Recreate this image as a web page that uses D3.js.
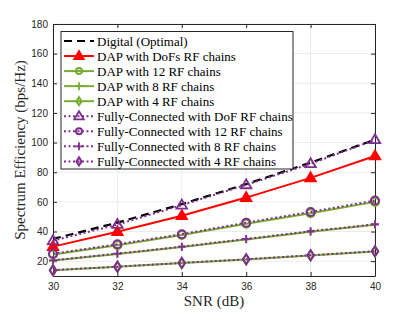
<!DOCTYPE html>
<html><head><meta charset="utf-8">
<script src="https://cdn.jsdelivr.net/npm/d3@7"></script>
<style>body{margin:0;background:#fff}svg{display:block}</style>
</head><body>
<svg id="c" width="415" height="312"></svg>
<script>
const snr = [30, 32, 34, 36, 38, 40];
const digital = [35, 46, 58.5, 72, 86.5, 102];
const dapDoF = [29.8, 39.9, 50.7, 62.9, 76.2, 91];
const dap12 = [24.5, 30.8, 37.6, 45.2, 52.4, 60.0];
const dap8 = [20.4, 24.8, 29.6, 34.7, 39.9, 44.6];
const dap4 = [13.8, 16.2, 18.7, 21.2, 23.9, 26.5];
const fcDoF = [33.8, 44.7, 57.8, 71.5, 85.7, 101.9];
const fc12 = [25.0, 31.4, 38.2, 46.0, 53.2, 60.9];
const fc8 = [20.6, 25.1, 29.8, 35.0, 40.2, 44.9];
const fc4 = [13.9, 16.3, 18.8, 21.3, 24.0, 26.7];
const xTicks = [30, 32, 34, 36, 38, 40];
const yTicks = [20, 40, 60, 80, 100, 120, 140, 160, 180];
const legendLabels = ["Digital (Optimal)", "DAP with DoFs RF chains", "DAP with 12 RF chains",
  "DAP with 8 RF chains", "DAP with 4 RF chains", "Fully-Connected with DoF RF chains",
  "Fully-Connected with 12 RF chains", "Fully-Connected with 8 RF chains", "Fully-Connected with 4 RF chains"];

const RED = "#ff0000", GREEN = "#77ac30", PURPLE = "#7e2f8e";
const series = [
  {v: digital, color: "#000", dash: "8,5", marker: null, w: 2.2},
  {v: dapDoF, color: RED, dash: null, marker: "tri", filled: true, w: 2},
  {v: dap12, color: GREEN, dash: null, marker: "circle", filled: false, w: 2},
  {v: dap8, color: GREEN, dash: null, marker: "plus", w: 2},
  {v: dap4, color: GREEN, dash: null, marker: "diamond", filled: false, w: 2},
  {v: fcDoF, color: PURPLE, dash: "2,2.5", marker: "tri", filled: false, w: 2},
  {v: fc12, color: PURPLE, dash: "2,2.5", marker: "circle", filled: false, w: 2},
  {v: fc8, color: PURPLE, dash: "2,2.5", marker: "plus", w: 2},
  {v: fc4, color: PURPLE, dash: "2,2.5", marker: "diamond", filled: false, w: 2}
];

const svg = d3.select("#c");
const L = 53, R = 375, T = 24, B = 276;
const x = d3.scaleLinear().domain([30, 40]).range([L, R]);
const y = d3.scaleLinear().domain([10, 180]).range([B, T]);
const axisColor = "#262626";

// grid
const g = svg.append("g");
g.selectAll(".gx").data(xTicks).enter().append("line")
  .attr("x1", d => x(d)).attr("x2", d => x(d)).attr("y1", T).attr("y2", B)
  .attr("stroke", "#ebebeb").attr("stroke-width", 1);
g.selectAll(".gy").data(yTicks).enter().append("line")
  .attr("x1", L).attr("x2", R).attr("y1", d => y(d)).attr("y2", d => y(d))
  .attr("stroke", "#ebebeb").attr("stroke-width", 1);

// axes
const ax = svg.append("g").attr("transform", `translate(0,${B})`)
  .call(d3.axisBottom(x).tickValues(xTicks).tickSizeInner(-4).tickSizeOuter(0).tickPadding(7));
const ay = svg.append("g").attr("transform", `translate(${L},0)`)
  .call(d3.axisLeft(y).tickValues(yTicks).tickSizeInner(-4).tickSizeOuter(0).tickPadding(5));
const axTop = svg.append("g").attr("transform", `translate(0,${T})`)
  .call(d3.axisTop(x).tickValues(xTicks).tickSizeInner(-4).tickSizeOuter(0).tickFormat(""));
const ayR = svg.append("g").attr("transform", `translate(${R},0)`)
  .call(d3.axisRight(y).tickValues(yTicks).tickSizeInner(-4).tickSizeOuter(0).tickFormat(""));
[ax, ay, axTop, ayR].forEach(a => {
  a.select(".domain").attr("stroke", axisColor).attr("stroke-width", 1);
  a.selectAll(".tick line").attr("stroke", axisColor);
  a.selectAll("text").attr("fill", axisColor).style("font-family", "Liberation Sans, Arial, sans-serif").style("font-size", "10px");
});

function drawMarker(sel, m, color, filled, size) {
  if (m === "tri") {
    const s = size || 5.5;
    sel.append("path").attr("d", `M0,${-s}L${s*0.95},${s*0.62}L${-s*0.95},${s*0.62}Z`)
      .attr("fill", filled ? color : "none").attr("stroke", color).attr("stroke-width", 1.8);
  } else if (m === "circle") {
    sel.append("circle").attr("r", size || 4).attr("fill", "none").attr("stroke", color).attr("stroke-width", 2);
  } else if (m === "plus") {
    const s = size || 4;
    sel.append("path").attr("d", `M${-s},0H${s}M0,${-s}V${s}`).attr("stroke", color).attr("stroke-width", 1.8).attr("fill", "none");
  } else if (m === "diamond") {
    const s = size || 5;
    sel.append("path").attr("d", `M0,${-s}L${s*0.65},0L0,${s}L${-s*0.65},0Z`)
      .attr("fill", "none").attr("stroke", color).attr("stroke-width", 2);
  }
}

const line = d3.line().x((d, i) => x(snr[i])).y(d => y(d));
const plot = svg.append("g");
series.forEach(s => {
  plot.append("path").datum(s.v).attr("d", line).attr("fill", "none")
    .attr("stroke", s.color).attr("stroke-width", s.w)
    .attr("stroke-dasharray", s.dash);
  if (s.marker) {
    s.v.forEach((v, i) => {
      const mg = plot.append("g").attr("transform", `translate(${x(snr[i])},${y(v)})`);
      drawMarker(mg, s.marker, s.color, s.filled);
    });
  }
});

// legend
const lg = svg.append("g");
const lx0 = 61, ly0 = 31.5, lw = 232, lh = 137.5;
lg.append("rect").attr("x", lx0).attr("y", ly0).attr("width", lw).attr("height", lh)
  .attr("fill", "#fff").attr("stroke", axisColor).attr("stroke-width", 1);
series.forEach((s, i) => {
  const yy = ly0 + 9.5 + i * 15.05;
  lg.append("line").attr("x1", lx0 + 3).attr("x2", lx0 + 33).attr("y1", yy).attr("y2", yy)
    .attr("stroke", s.color).attr("stroke-width", s.w).attr("stroke-dasharray", s.dash);
  if (s.marker) {
    const mg = lg.append("g").attr("transform", `translate(${lx0 + 18},${yy})`);
    drawMarker(mg, s.marker, s.color, s.filled, s.marker === "tri" ? 5 : (s.marker === "circle" ? 3 : 4));
  }
  lg.append("text").attr("x", lx0 + 36).attr("y", yy).attr("dy", "0.35em")
    .style("font-family", "Liberation Serif, Times New Roman, serif").style("font-size", "13px")
    .attr("fill", "#000").text(legendLabels[i]);
});

// axis labels
svg.append("text").attr("x", (L + R) / 2).attr("y", 306).attr("text-anchor", "middle")
  .style("font-family", "Liberation Serif, Times New Roman, serif").style("font-size", "15px")
  .attr("fill", axisColor).text("SNR (dB)");
svg.append("text").attr("transform", `translate(25,${(T + B) / 2}) rotate(-90)`).attr("text-anchor", "middle")
  .style("font-family", "Liberation Serif, Times New Roman, serif").style("font-size", "15px")
  .attr("fill", axisColor).text("Spectrum Efficiency (bps/Hz)");
</script>
</body></html>
